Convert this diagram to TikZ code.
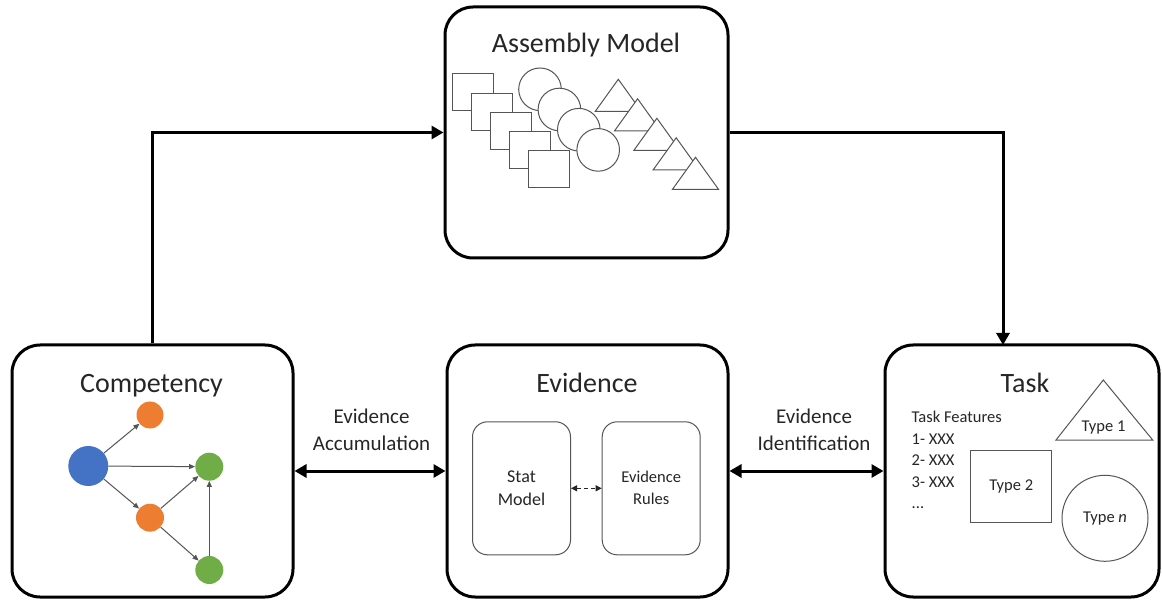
\documentclass[tikz,border=0pt]{standalone}
\usepackage{fontspec}
\setmainfont{Carlito}
\usetikzlibrary{arrows.meta}
\definecolor{cblue}{HTML}{4472C4}
\definecolor{corange}{HTML}{ED7D31}
\definecolor{cgreen}{HTML}{70AD47}
\definecolor{txt}{HTML}{262626}
\definecolor{thin}{HTML}{555555}
\begin{document}
\begin{tikzpicture}[x=1pt,y=-1pt,
  mainbox/.style={draw=black,line width=3pt,rounded corners=28pt,fill=white},
  bigarrow/.style={line width=3pt,-{Triangle[length=12pt,width=13pt]}},
  bigdouble/.style={line width=3pt,{Triangle[length=12pt,width=13pt]}-{Triangle[length=12pt,width=13pt]}},
  titletext/.style={font=\fontsize{28}{32}\selectfont,text=txt,anchor=base,inner sep=0pt},
  lbl/.style={font=\fontsize{21}{27}\selectfont,text=txt,align=center,inner sep=0pt},
  innerbox/.style={draw=thin,line width=1pt,rounded corners=15pt,minimum width=98pt,minimum height=133pt,align=center,text=txt},
  outl/.style={draw=thin,line width=1pt,fill=white},
  dot/.style={circle,inner sep=0pt,minimum size=#1},
  smallarrow/.style={draw=thin,line width=1pt,-{Triangle[length=6pt,width=5pt]}},
  sm/.style={font=\fontsize{16.5}{21.5}\selectfont,text=txt}
]
\useasboundingbox (0,0) rectangle (1162,601);

% main boxes
\node[mainbox,minimum width=283pt,minimum height=251pt] (asm) at (586.5,132.5) {};
\node[mainbox,minimum width=281pt,minimum height=252pt] (comp) at (152.5,471) {};
\node[mainbox,minimum width=281pt,minimum height=252pt] (ev) at (587.5,471) {};
\node[mainbox,minimum width=274pt,minimum height=252pt] (task) at (1022,471) {};

% titles
\node[titletext] (tasm) at (586,53) {Assembly Model};
\node[titletext] (tcomp) at (151.5,393) {Competency};
\node[titletext] (tev) at (587,392) {Evidence};
\node[titletext] (ttask) at (1025,392) {Task};

% top connectors
\draw[bigarrow] (comp.north) |- (asm.west);
\coordinate (tasktop) at (1003,345);
\draw[bigarrow] (asm.east) -| (tasktop);

% horizontal double arrows
\draw[bigdouble] (comp.east) -- (ev.west);
\draw[bigdouble] (ev.east) -- (task.west);
\node[lbl] (lacc) at (371.5,430) {Evidence\\Accumulation};
\node[lbl] (lid) at (814,430) {Evidence\\Identification};

% assembly shapes: squares
\foreach \i in {0,...,4} {
  \draw[outl] ({452.7+19*\i},{74+19.2*\i}) rectangle ++(41,37);
}
% circles
\foreach \i in {0,...,3} {
  \draw[outl] ({540+19.4*\i},{89.3+20.2*\i}) circle (21.3);
}
% triangles
\foreach \i in {0,...,4} {
  \draw[outl] ({618.3+19.3*\i},{79.3+19.5*\i}) -- ++(23,32) -- ++(-46,0) -- cycle;
}

% competency graph
\node[dot=40pt,fill=cblue] (b) at (88.3,466) {};
\node[dot=27pt,fill=corange] (o1) at (150,415) {};
\node[dot=28pt,fill=corange] (o2) at (150,517.7) {};
\node[dot=28pt,fill=cgreen] (g1) at (209.3,466.7) {};
\node[dot=28pt,fill=cgreen] (g2) at (209.3,570) {};
\draw[smallarrow] (b) -- (o1);
\draw[smallarrow] (b) -- (g1);
\draw[smallarrow] (b) -- (o2);
\draw[smallarrow] (o2) -- (g1);
\draw[smallarrow] (o2) -- (g2);
\draw[smallarrow] (g2) -- (g1);

% evidence inner boxes
\node[innerbox,font=\fontsize{18}{22.5}\selectfont] (stat) at (521.5,488.3) {Stat\\Model};
\node[innerbox,font=\fontsize{16.5}{22}\selectfont] (rules) at (651.2,488.3) {Evidence\\Rules};
\draw[draw=txt,line width=1pt,dash pattern=on 4pt off 3pt,{Triangle[length=6pt,width=6pt]}-{Triangle[length=6pt,width=6pt]}] (stat) -- (rules);

% task contents
\node[sm,align=left,anchor=north west,inner sep=0pt] (feat) at (911.5,411) {Task Features\\1- XXX\\2- XXX\\3- XXX\\...};
\draw[outl] (1056,440) -- (1103.3,380) -- (1152.7,440) -- cycle;
\node[sm,inner sep=0pt,anchor=base] (ty1) at (1103.5,431.7) {Type 1};
\node[outl,sm,minimum width=81pt,minimum height=72pt] (ty2) at (1011.3,486) {Type 2};
\node[outl,sm,circle,minimum size=86pt,inner sep=0pt] (tyn) at (1105,518.3) {Type \textit{n}};
\end{tikzpicture}
\end{document}
